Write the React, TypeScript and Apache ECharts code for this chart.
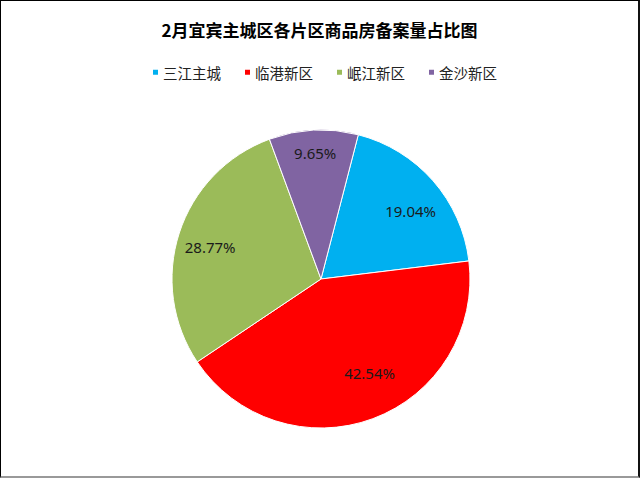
import React, { useEffect, useRef } from "react";
import * as echarts from "echarts";

const titleText = "2月宜宾主城区各片区商品房备案量占比图";
const categories = ["三江主城", "临港新区", "岷江新区", "金沙新区"];
const shares = [19.04, 42.54, 28.77, 9.65];
const colors = ["#00B0F0", "#FF0000", "#9BBB59", "#8064A2"];
// label nudges (layout only)
const labelNudges = [
  [2, 9],
  [8, -15],
  [0, 4],
  [0, -10],
];

export default function App() {
  const ref = useRef<HTMLDivElement>(null);
  useEffect(() => {
    if (!ref.current) return;
    const chart = echarts.init(ref.current, undefined, { renderer: "svg" });
    const data = categories.map((name, i) => ({
      name,
      value: shares[i],
      itemStyle: { color: colors[i] },
    }));
    chart.setOption({
      animation: false,
      backgroundColor: "#ffffff",
      title: {
        text: titleText,
        left: "center",
        top: 15,
        textStyle: {
          fontFamily: "Noto Sans CJK SC",
          fontSize: 17,
          fontWeight: "bold",
          color: "#000",
        },
      },
      legend: {
        data: categories,
        left: 145,
        top: 59,
        icon: "rect",
        itemWidth: 7,
        itemHeight: 7,
        itemGap: 22,
        textStyle: {
          fontFamily: "Noto Sans CJK SC",
          fontSize: 14.5,
          color: "#222",
          padding: [0, 0, 0, -1],
        },
      },
      series: [
        {
          type: "pie",
          center: [320, 278],
          radius: [0, 149],
          startAngle: 75.5,
          clockwise: true,
          label: { show: false },
          labelLine: { show: false },
          itemStyle: { borderColor: "#fff", borderWidth: 1 },
          emphasis: { disabled: true },
          data,
        },
        {
          type: "pie",
          center: [320, 278],
          radius: [78, 149],
          startAngle: 75.5,
          clockwise: true,
          silent: true,
          itemStyle: { color: "rgba(0,0,0,0)" },
          label: {
            show: true,
            position: "inside",
            formatter: (p: any) => p.value.toFixed(2) + "%",
            fontFamily: "Noto Sans",
            fontSize: 15,
            color: "#1a1a1a",
          },
          labelLine: { show: false },
          emphasis: { disabled: true },
          data: categories.map((name, i) => ({
            name,
            value: shares[i],
            label: { offset: labelNudges[i] },
          })),
        },
      ],
    });
    return () => chart.dispose();
  }, []);
  return (
    <div
      style={{
        position: "fixed",
        left: 0,
        top: 0,
        width: 640,
        height: 478,
        boxSizing: "border-box",
        borderTop: "1px solid #000",
        borderLeft: "1px solid #000",
        borderRight: "2px solid #111",
        borderBottom: "2px solid #999",
        background: "#fff",
      }}
    >
      <div ref={ref} style={{ width: 637, height: 475 }} />
    </div>
  );
}
